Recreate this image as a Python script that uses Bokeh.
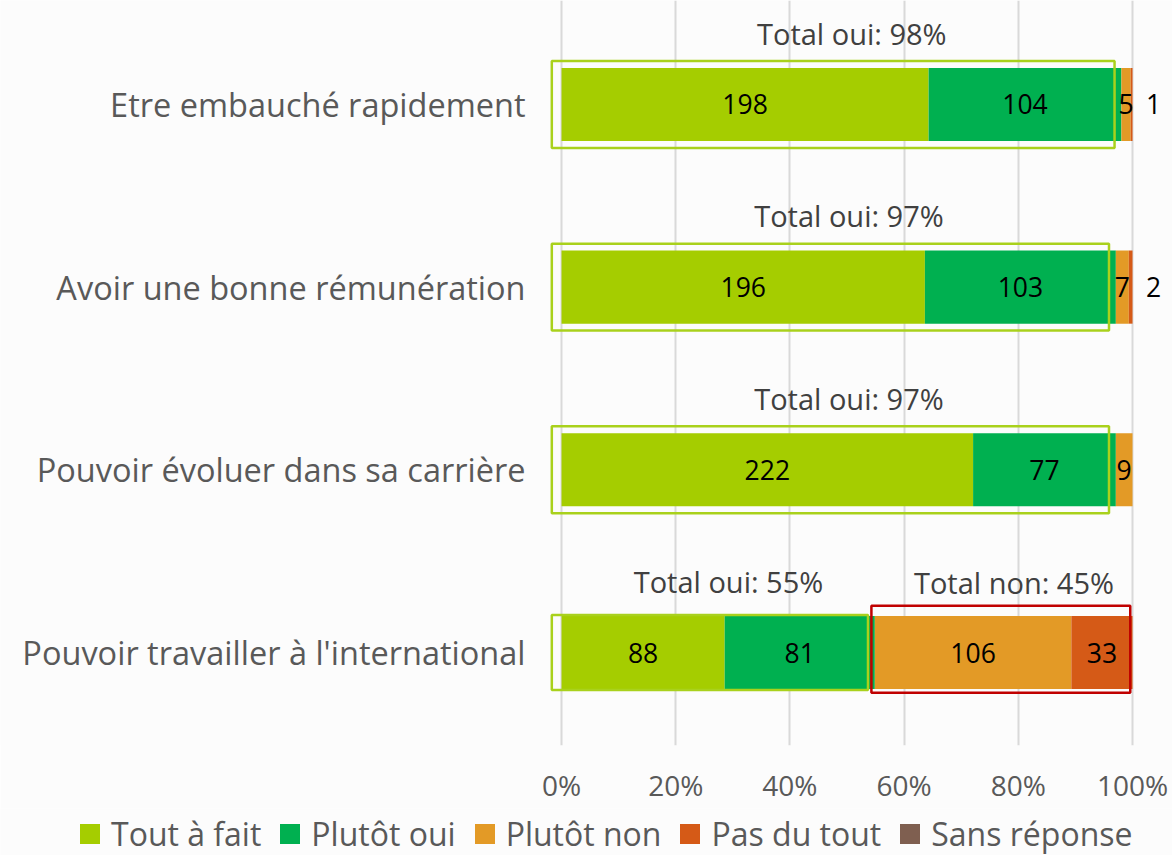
from bokeh.plotting import figure
from bokeh.layouts import column
from bokeh.models import (Range1d, FixedTicker, PrintfTickFormatter, Legend, LegendItem)
from bokeh.core.properties import value
from bokeh.embed import file_html
from bokeh.resources import INLINE

# ---------------- data ----------------
categories = ["Etre embauché rapidement",
              "Avoir une bonne rémunération",
              "Pouvoir évoluer dans sa carrière",
              "Pouvoir travailler à l'international"]
tout_a_fait = [198, 196, 222, 88]
plutot_oui = [104, 103, 77, 81]
plutot_non = [5, 7, 9, 106]
pas_du_tout = [1, 2, 0, 33]
sans_reponse = [0, 0, 0, 0]
series_names = ["Tout à fait", "Plutôt oui", "Plutôt non", "Pas du tout", "Sans réponse"]
x_ticks = [0, 20, 40, 60, 80, 100]

# ---------------- style ----------------
colors = ["#A5CD00", "#00B050", "#E39A26", "#D55A17", "#7F5F50"]
FONT = "Open Sans"
BG = "#FCFCFC"
rows = [3, 2, 1, 0]
W, H_MAIN, H_LEG = 1172, 808, 47

series = [tout_a_fait, plutot_oui, plutot_non, pas_du_tout, sans_reponse]
n = len(categories)
totals = [sum(s[i] for s in series) for i in range(n)]
pct = [[100.0 * s[i] / totals[i] for i in range(n)] for s in series]
yes_pct = [pct[0][i] + pct[1][i] for i in range(n)]
no_pct = [pct[2][i] + pct[3][i] for i in range(n)]

p = figure(width=W, height=H_MAIN, output_backend="svg", toolbar_location=None,
           x_range=Range1d(-98.25, 107.0), y_range=Range1d(-0.509, 3.569),
           y_axis_location=None,
           min_border_left=0, min_border_right=0, min_border_top=0, min_border_bottom=63,
           background_fill_color=BG, border_fill_color=BG, outline_line_color=None)

# category labels (left of the 0% line)
p.text(x=[0] * n, y=rows, text=categories, text_font=value(FONT), text_font_size="32.5px",
       text_color="#595959", text_align="right", text_baseline="middle", x_offset=-36)

# bars
renderers = []
lefts = [0.0] * n
in_x, in_y, in_t = [], [], []
out_x, out_y, out_t = [], [], []
for k, s in enumerate(series):
    rights = [lefts[i] + pct[k][i] for i in range(n)]
    r = p.hbar(y=rows, left=lefts, right=rights, height=0.4,
               fill_color=colors[k], line_color=None)
    renderers.append(r)
    for i in range(n):
        if s[i] > 0:
            if pct[k][i] < 1:
                out_x.append(100.0); out_y.append(rows[i]); out_t.append(str(s[i]))
            else:
                in_x.append((lefts[i] + rights[i]) / 2); in_y.append(rows[i]); in_t.append(str(s[i]))
    lefts = rights

# outline boxes
gh = [0.238, 0.238, 0.238, 0.205]
p.quad(left=[-1.7] * n, right=[y - 1.2 for y in yes_pct],
       bottom=[rows[i] - gh[i] for i in range(n)], top=[rows[i] + gh[i] for i in range(n)],
       fill_color=None, line_color="#A9D11C", line_width=2.5)
no_rows = [i for i in range(n) if no_pct[i] > 10]
p.quad(left=[yes_pct[i] - 0.6 for i in no_rows], right=[99.6] * len(no_rows),
       bottom=[rows[i] - 0.22 for i in no_rows], top=[rows[i] + 0.256 for i in no_rows],
       fill_color=None, line_color="#C00000", line_width=2.5)

# value labels
p.text(x=in_x, y=in_y, text=in_t, text_font=value(FONT), text_font_size="26.5px",
       text_color="#000000", text_align="center", text_baseline="middle")
p.text(x=out_x, y=out_y, text=out_t, text_font=value(FONT), text_font_size="26.5px",
       text_color="#000000", text_align="center", text_baseline="middle", x_offset=21)

# total labels
tx, ty, tt = [], [], []
for i in range(n):
    tx.append(yes_pct[i] / 2 + 1.8); ty.append(rows[i] + 0.39)
    tt.append("Total oui: %d%%" % round(yes_pct[i]))
for i in no_rows:
    tx.append(yes_pct[i] + (100 - yes_pct[i]) / 2 + 1.8); ty.append(rows[i] + 0.385)
    tt.append("Total non: %d%%" % round(no_pct[i]))
p.text(x=tx, y=ty, text=tt, text_font=value(FONT), text_font_size="29px",
       text_color="#404040", text_align="center", text_baseline="middle")

# grid
p.xgrid.ticker = FixedTicker(ticks=x_ticks)
p.xgrid.grid_line_color = "#D9D9D9"
p.xgrid.grid_line_width = 2
p.ygrid.grid_line_color = None

# x axis
xa = p.xaxis[0]
xa.ticker = FixedTicker(ticks=x_ticks)
xa.formatter = PrintfTickFormatter(format="%d%%")
xa.axis_line_color = None
xa.major_tick_line_color = None
xa.minor_tick_line_color = None
xa.major_label_text_font = FONT
xa.major_label_text_font_size = "28px"
xa.major_label_text_color = "#595959"
xa.major_label_standoff = 14

# legend in its own strip (swatch renderers sit outside the strip's visible range)
pl = figure(width=W, height=H_LEG, output_backend="svg", toolbar_location=None,
            x_range=Range1d(0, 1), y_range=Range1d(0, 1),
            x_axis_location=None, y_axis_location=None,
            min_border_left=0, min_border_right=0, min_border_top=0, min_border_bottom=0,
            background_fill_color=BG, border_fill_color=BG, outline_line_color=None)
pl.xgrid.grid_line_color = None
pl.ygrid.grid_line_color = None
leg_r = [pl.hbar(y=[-50], left=[-50], right=[-49], height=0.5, fill_color=colors[k], line_color=None)
         for k in range(len(series))]
legend = Legend(items=[LegendItem(label=series_names[k], renderers=[leg_r[k]])
                       for k in range(len(series))],
                orientation="horizontal", location=(77, 0),
                label_text_font=FONT, label_text_font_size="32px", label_text_color="#595959",
                glyph_width=25, glyph_height=25, spacing=16, label_standoff=9,
                border_line_color=None, background_fill_alpha=0, padding=0, margin=0)
pl.add_layout(legend, "center")

layout = column(p, pl, spacing=0)
open("out.html", "w").write(file_html(layout, INLINE))
